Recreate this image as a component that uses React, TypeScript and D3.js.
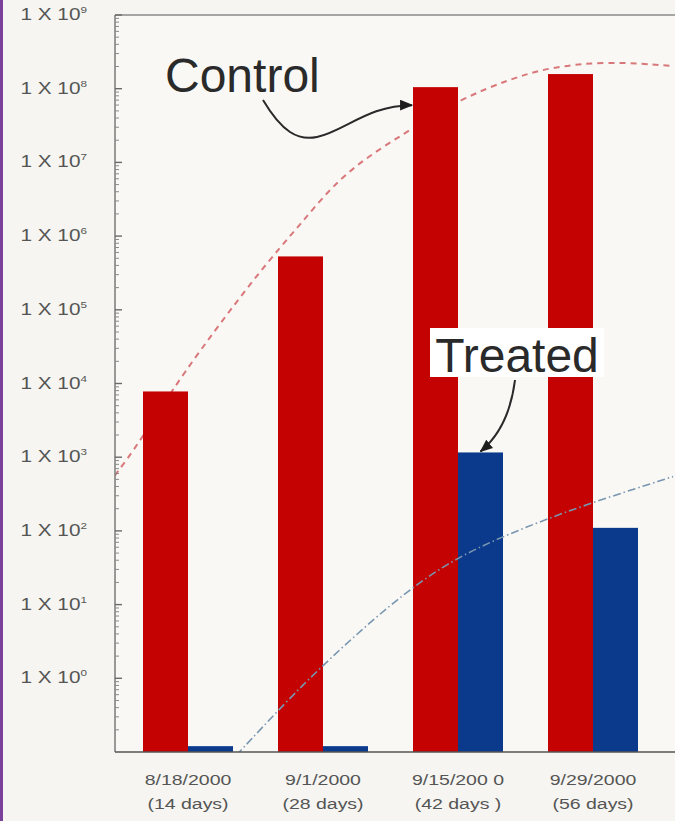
import React from "react";
import * as d3 from "d3";

// Sampling dates and culture age
const sampleDates = ["8/18/2000", "9/1/2000", "9/15/200 0", "9/29/2000"];
const sampleAges = ["(14 days)", "(28 days)", "(42 days )", "(56 days)"];
const ageDays = [14, 28, 42, 56];

// Counts per sample (log scale)
const controlCounts = [7.8e3, 5.3e5, 1.05e8, 1.58e8];
const treatedCounts = [0.12, 0.12, 1.16e3, 110];

// Fitted trend curves (day, count)
const controlFitDays = [6.4, 9.0, 12.9, 21.5, 25.6, 30.1, 36.7, 42.2, 47.4, 51.5, 57.5, 64.3];
const controlFitCounts = [560, 1600, 1.1e4, 3.5e5, 1.4e6, 7.4e6, 2.6e7, 7.2e7, 1.35e8, 1.96e8, 2.37e8, 2.03e8];
const treatedFitDays = [19.0, 24.3, 28.4, 34.9, 40.9, 47.1, 54.6, 64.3];
const treatedFitCounts = [0.09, 0.5, 1.7, 10, 38, 90, 215, 545];

// Labelled decades on the count axis
const decadeExponents = [0, 1, 2, 3, 4, 5, 6, 7, 8, 9];
const seriesNames = ["Control", "Treated"];
const seriesColors = ["#c50202", "#0b3a8d"];

const W = 675;
const H = 821;
const plotLeft = 115;
const plotTop = 15;
const plotRight = 690;
const plotBottom = 752;

export default function App() {
  const x = d3
    .scaleBand<string>()
    .domain(sampleDates)
    .range([120.5, 660.5])
    .paddingInner(1 / 3)
    .paddingOuter(1 / 6);
  const xSub = d3.scaleBand<string>().domain(seriesNames).range([0, x.bandwidth()]);
  const y = d3.scaleLog().domain([0.1, 1e9]).range([plotBottom, plotTop]);
  const center = (i: number) => (x(sampleDates[i]) as number) + x.bandwidth() / 2;
  const xDay = d3.scaleLinear().domain([ageDays[0], ageDays[3]]).range([center(0), center(3)]);

  const fitLine = d3
    .line<[number, number]>()
    .x((d) => xDay(d[0]))
    .y((d) => y(d[1]))
    .curve(d3.curveBasis);

  const controlFit = fitLine(controlFitDays.map((d, i) => [d, controlFitCounts[i]]) as [number, number][]) || "";
  const treatedFit = fitLine(treatedFitDays.map((d, i) => [d, treatedFitCounts[i]]) as [number, number][]) || "";

  // minor ticks 2..9 within each decade
  const minorTicks: number[] = [];
  for (let e = -1; e < 9; e++) {
    for (let m = 2; m <= 9; m++) minorTicks.push(m * Math.pow(10, e));
  }

  // Annotation anchors derived from the bars they point at
  const ctrlTipX = (x(sampleDates[2]) as number) - 1;
  const ctrlTipY = y(controlCounts[2]) + 18;
  const trtTipX = (x(sampleDates[2]) as number) + (xSub("Treated") as number) + xSub.bandwidth() / 2;
  const trtTipY = y(treatedCounts[2]) - 1;

  const labelFont = "'Liberation Sans', Arial, Helvetica, sans-serif";

  return (
    <div style={{ position: "fixed", left: 0, top: 0 }}>
      <svg width={W} height={H} style={{ display: "block" }}>
        <defs>
          <clipPath id="plot-clip">
            <rect x={plotLeft} y={plotTop} width={plotRight - plotLeft} height={plotBottom - plotTop} />
          </clipPath>
          <marker
            id="arrow-head"
            viewBox="0 0 12 10"
            refX={11}
            refY={5}
            markerWidth={13}
            markerHeight={11}
            markerUnits="userSpaceOnUse"
            orient="auto"
          >
            <path d="M0,0 L12,5 L0,10 Z" fill="#1e1e1e" />
          </marker>
        </defs>

        <rect x={0} y={0} width={W} height={H} fill="#f6f5f1" />
        <rect x={plotLeft} y={plotTop} width={plotRight - plotLeft} height={plotBottom - plotTop} fill="#f9f8f5" />

        {/* control trend, behind the bars */}
        <path
          d={controlFit}
          clipPath="url(#plot-clip)"
          fill="none"
          stroke="#d9787a"
          strokeWidth={2}
          strokeDasharray="6 5"
        />

        {/* bars */}
        {sampleDates.map((d, i) => (
          <g key={d} transform={`translate(${x(d)},0)`}>
            {[controlCounts[i], treatedCounts[i]].map((v, j) => (
              <rect
                key={seriesNames[j]}
                x={xSub(seriesNames[j])}
                y={y(v)}
                width={xSub.bandwidth()}
                height={plotBottom - y(v)}
                fill={seriesColors[j]}
              />
            ))}
          </g>
        ))}

        {/* treated trend, over the bars */}
        <path
          d={treatedFit}
          clipPath="url(#plot-clip)"
          fill="none"
          stroke="#7896b0"
          strokeWidth={1.6}
          strokeDasharray="8 3 1.5 3"
        />

        {/* frame */}
        <line x1={plotLeft} x2={plotRight} y1={plotTop} y2={plotTop} stroke="#8a8a8a" strokeWidth={1.5} />
        <line x1={plotLeft} x2={plotLeft} y1={plotTop} y2={plotBottom} stroke="#7a7a7a" strokeWidth={1.5} />
        <line x1={plotLeft} x2={plotRight} y1={plotBottom} y2={plotBottom} stroke="#555" strokeWidth={1.6} />

        {/* y ticks */}
        {minorTicks.map((v, i) => (
          <line
            key={"m" + i}
            x1={plotLeft}
            x2={plotLeft + 4}
            y1={y(v)}
            y2={y(v)}
            stroke="#8a8a8a"
            strokeWidth={1}
          />
        ))}
        {decadeExponents.map((e) => (
          <line
            key={"M" + e}
            x1={plotLeft}
            x2={plotLeft + 7}
            y1={y(Math.pow(10, e))}
            y2={y(Math.pow(10, e))}
            stroke="#6a6a6a"
            strokeWidth={1.4}
          />
        ))}

        {/* y labels */}
        {decadeExponents.map((e) => (
          <g key={"l" + e} transform={`translate(87,${y(Math.pow(10, e)) + 5}) scale(1.3,1)`}>
            <text textAnchor="end" fontFamily={labelFont} fontSize={16} fill="#555">
              1 X 10
              <tspan dy={-7} fontSize={9}>
                {e}
              </tspan>
            </text>
          </g>
        ))}

        {/* x labels */}
        {sampleDates.map((d, i) => (
          <g key={"x" + d}>
            <g transform={`translate(${center(i)},785) scale(1.3,1)`}>
              <text textAnchor="middle" fontFamily={labelFont} fontSize={15} fill="#555">
                {d}
              </text>
            </g>
            <g transform={`translate(${center(i)},809) scale(1.3,1)`}>
              <text textAnchor="middle" fontFamily={labelFont} fontSize={15} fill="#555">
                {sampleAges[i]}
              </text>
            </g>
          </g>
        ))}

        {/* Control callout */}
        <text x={165} y={92} fontFamily={labelFont} fontSize={48} fill="#2a2a2a">
          Control
        </text>
        <path
          d={`M263,100 C282,132 298,141 317,137 C345,131 368,${ctrlTipY} ${ctrlTipX},${ctrlTipY}`}
          fill="none"
          stroke="#2a2a2a"
          strokeWidth={2}
          markerEnd="url(#arrow-head)"
        />

        {/* Treated callout */}
        <rect x={430} y={328} width={174} height={49} fill="#ffffff" />
        <text x={517} y={372} textAnchor="middle" fontFamily={labelFont} fontSize={48} fill="#2a2a2a">
          Treated
        </text>
        <path
          d={`M515,380 Q509,428 ${trtTipX},${trtTipY}`}
          fill="none"
          stroke="#2a2a2a"
          strokeWidth={2}
          markerEnd="url(#arrow-head)"
        />

        {/* page edge */}
        <rect x={0} y={0} width={3} height={H} fill="#7b3f9c" />
      </svg>
    </div>
  );
}
